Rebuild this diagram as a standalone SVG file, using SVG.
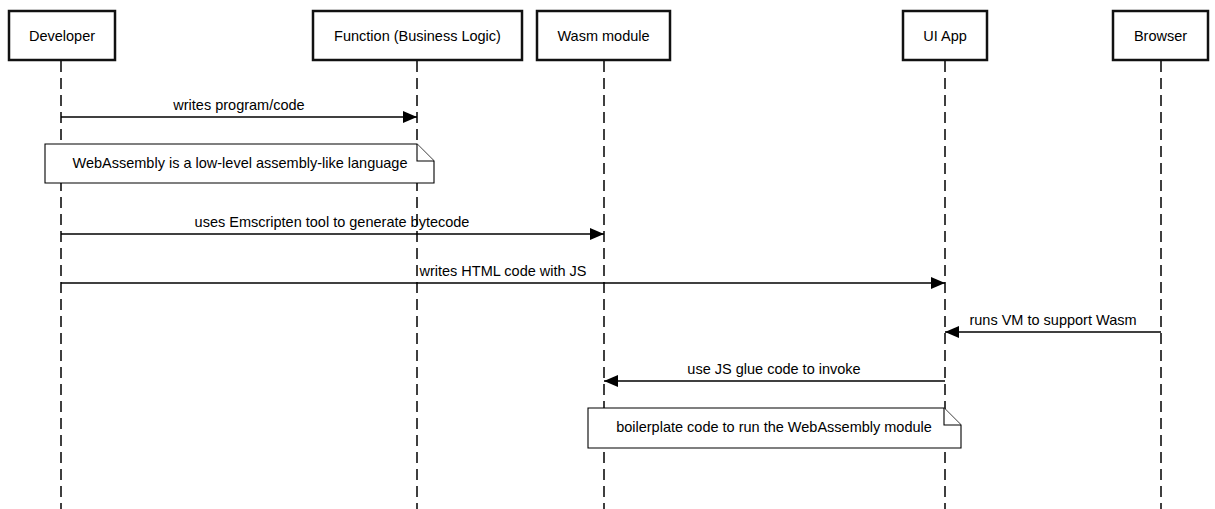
<svg xmlns="http://www.w3.org/2000/svg" width="1215" height="509" viewBox="0 0 1215 509">
<style>
text{font-family:"Liberation Sans",Arial,sans-serif;font-size:14.5px;fill:#000;text-anchor:middle}
.box{fill:#fff;stroke:#111;stroke-width:2.5}
.life{stroke:#000;stroke-width:1.5;stroke-dasharray:11 6;fill:none}
.msg{stroke:#000;stroke-width:1.4;fill:none;marker-end:url(#ah)}
.note{fill:#fff;stroke:#000;stroke-width:1.1}
</style>
<defs>
<marker id="ah" markerWidth="14" markerHeight="12" refX="14" refY="6" orient="auto" markerUnits="userSpaceOnUse">
<path d="M0,0 L14,6 L0,12 Z" fill="#000"/>
</marker>
</defs>
<g id="lifelines">
<line class="life" x1="61" y1="61" x2="61" y2="509"/>
<line class="life" x1="417" y1="61" x2="417" y2="509"/>
<line class="life" x1="604" y1="61" x2="604" y2="509"/>
<line class="life" x1="945" y1="61" x2="945" y2="509"/>
<line class="life" x1="1161" y1="61" x2="1161" y2="509"/>
</g>
<g id="developer"><rect class="box" x="9" y="11" width="106" height="49"/><text x="62" y="41">Developer</text></g>
<g id="function"><rect class="box" x="313" y="11" width="209" height="49"/><text x="417.5" y="41">Function (Business Logic)</text></g>
<g id="wasm"><rect class="box" x="537" y="11" width="133" height="49"/><text x="603.5" y="41">Wasm module</text></g>
<g id="uiapp"><rect class="box" x="903" y="11" width="84" height="49"/><text x="945" y="41">UI App</text></g>
<g id="browser"><rect class="box" x="1113" y="11" width="95" height="49"/><text x="1160.5" y="41">Browser</text></g>
<g id="note1"><path class="note" d="M45,144 H417 L434,161 V183 H45 Z"/><path class="note" d="M417,144 V161 H434"/><text x="240" y="168">WebAssembly is a low-level assembly-like language</text></g>
<g id="note2"><path class="note" d="M588,408 H944 L961,425 V448 H588 Z"/><path class="note" d="M944,408 V425 H961"/><text x="774" y="432">boilerplate code to run the WebAssembly module</text></g>
<g id="connectors">
<line class="msg" x1="61" y1="117" x2="417" y2="117"/>
<text x="239" y="110">writes program/code</text>
<line class="msg" x1="61" y1="234" x2="604" y2="234"/>
<text x="332" y="227">uses Emscripten tool to generate bytecode</text>
<line class="msg" x1="61" y1="283" x2="945" y2="283"/>
<text x="503" y="276">writes HTML code with JS</text>
<line class="msg" x1="1161" y1="332" x2="945" y2="332"/>
<text x="1053" y="325">runs VM to support Wasm</text>
<line class="msg" x1="945" y1="381" x2="604" y2="381"/>
<text x="774" y="374">use JS glue code to invoke</text>
</g>
</svg>
